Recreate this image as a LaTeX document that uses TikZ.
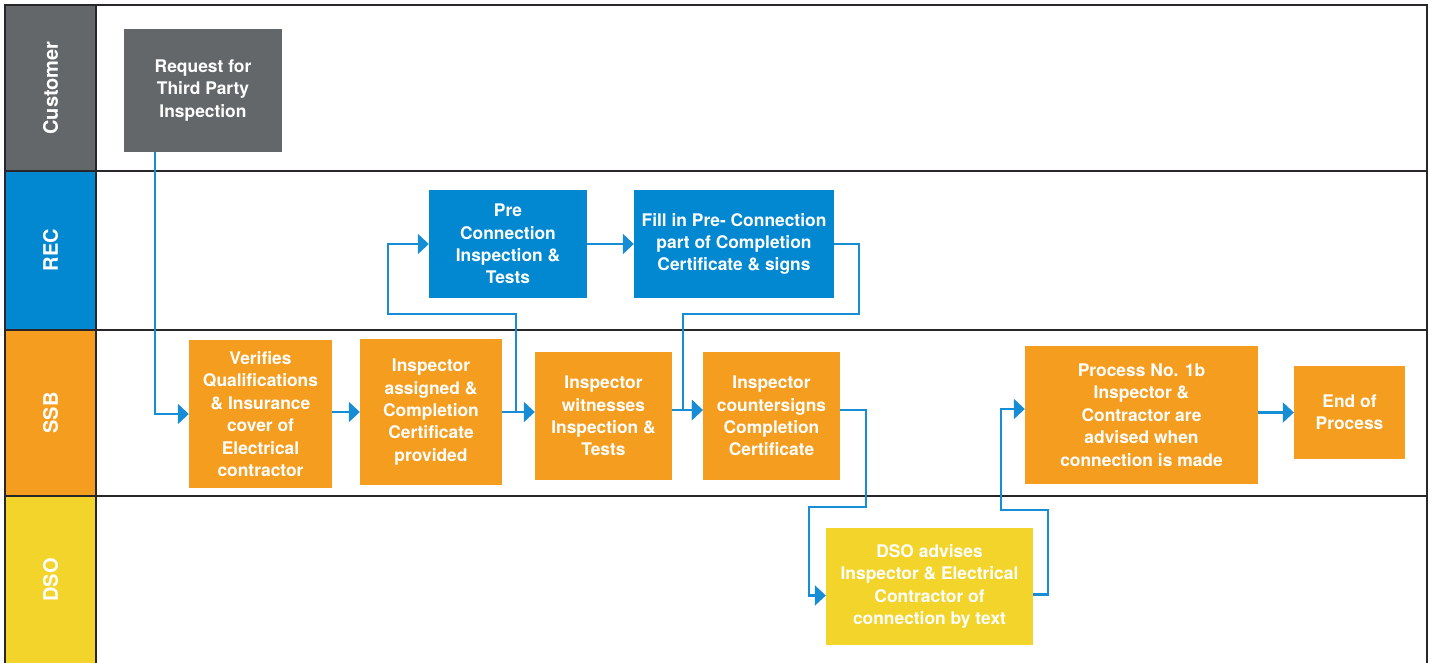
\documentclass[tikz,border=0pt]{standalone}
\usepackage{fontspec}
\setmainfont{TeX Gyre Heros}
\usepackage{tikz}
\usetikzlibrary{arrows.meta,positioning,calc}
\definecolor{custgrey}{RGB}{99,103,105}
\definecolor{recblue}{RGB}{2,136,209}
\definecolor{ssborange}{RGB}{245,157,31}
\definecolor{dsoyellow}{RGB}{242,212,42}
\definecolor{flowblue}{RGB}{22,141,213}
\definecolor{framedark}{RGB}{40,38,40}

\begin{document}
\begin{tikzpicture}[x=1pt, y=-1pt,
    lanelabel/.style={rotate=90, text=white, font=\fontsize{20}{24}\selectfont\bfseries},
    stepbox/.style={rectangle, inner sep=0pt, align=center, text=white,
        font=\fontsize{17.4}{22.4}\selectfont\bfseries},
    custbox/.style={stepbox, fill=custgrey},
    recbox/.style={stepbox, fill=recblue},
    ssbbox/.style={stepbox, fill=ssborange},
    dsobox/.style={stepbox, fill=dsoyellow},
    flow/.style={draw=flowblue, line width=2.4pt, -{Triangle[length=11pt,width=20pt]}}]
    \useasboundingbox (0,0) rectangle (1430,662);

    % swimlanes
    \fill[custgrey]  (5,5)   rectangle (96,171);
    \fill[recblue]   (5,171) rectangle (96,330);
    \fill[ssborange] (5,330) rectangle (96,496);
    \fill[dsoyellow] (5,496) rectangle (96,664);
    \draw[framedark, line width=2pt] (5,664) -- (5,5) -- (1427,5) -- (1427,664);
    \draw[framedark, line width=2pt] (96,5) -- (96,664);
    \foreach \y in {171,330,496} {
        \draw[framedark, line width=2pt] (5,\y) -- (1427,\y);
    }
    \node[lanelabel] (lcust) at (50.5,88)  {Customer};
    \node[lanelabel] (lrec)  at (50.5,250) {REC};
    \node[lanelabel] (lssb)  at (50.5,413) {SSB};
    \node[lanelabel] (ldso)  at (50.5,580) {DSO};

    % steps
    \node[custbox, minimum width=158pt, minimum height=123pt] (request) at (203,90.5)
        {Request for\\Third Party\\Inspection};
    \node[recbox, minimum width=158pt, minimum height=108pt] (preconn) at (508,244)
        {Pre\\Connection\\Inspection \&\\Tests};
    \node[recbox, minimum width=200pt, minimum height=108pt] (fillin) at (734,244)
        {Fill in Pre- Connection\\part of Completion\\Certificate \& signs};
    \node[ssbbox, minimum width=143pt, minimum height=148pt] (verify) at (260.5,414)
        {Verifies\\Qualifications\\\& Insurance\\cover of\\Electrical\\contractor};
    \node[ssbbox, minimum width=142pt, minimum height=146pt] (assign) at (431,412)
        {Inspector\\assigned \&\\Completion\\Certificate\\provided};
    \node[ssbbox, minimum width=137pt, minimum height=128pt] (witness) at (603.5,416)
        {Inspector\\witnesses\\Inspection \&\\Tests};
    \node[ssbbox, minimum width=137pt, minimum height=128pt] (counter) at (771.5,416)
        {Inspector\\countersigns\\Completion\\Certificate};
    \node[ssbbox, minimum width=233pt, minimum height=138pt] (process) at (1141.5,415)
        {Process No. 1b\\Inspector \&\\Contractor are\\advised when\\connection is made};
    \node[ssbbox, minimum width=111pt, minimum height=93pt] (endproc) at (1349.5,412.5)
        {End of\\Process};
    \node[dsobox, minimum width=207pt, minimum height=117pt] (advise) at (929.5,586.5)
        {DSO advises\\Inspector \& Electrical\\Contractor of\\connection by text};

    % bends
    \coordinate (loopA) at (388,314);
    \coordinate (loopB) at (683,314);
    \coordinate (loopC) at (809,507);
    \coordinate (loopD) at (1001,510);

    % connectors
    \draw[flow] ([xshift=-48pt]request.south) |- (verify.west);
    \draw[flow] (verify.east |- assign.west) -- (assign.west);
    \draw[flow] (assign.east) -- (assign.east -| witness.west);
    \draw[flow] ([xshift=14pt]assign.east) |- (loopA) |- (preconn.west);
    \draw[flow] (preconn.east) -- (fillin.west);
    \draw[flow] (fillin.east) -- ++(25,0) |- (loopB) |- ([yshift=6pt]counter.west);
    \draw[flow] ([yshift=6pt]witness.east) -- ([yshift=6pt]counter.west);
    \draw[flow] ([yshift=6pt]counter.east) -- ++(26,0) |- (loopC) |- ([yshift=-9pt]advise.west);
    \draw[flow] ([yshift=-8pt]advise.east) -- ++(15,0) |- (loopD) |- ([yshift=6pt]process.west);
    \draw[flow] (process.east |- endproc.west) -- (endproc.west);
\end{tikzpicture}
\end{document}
